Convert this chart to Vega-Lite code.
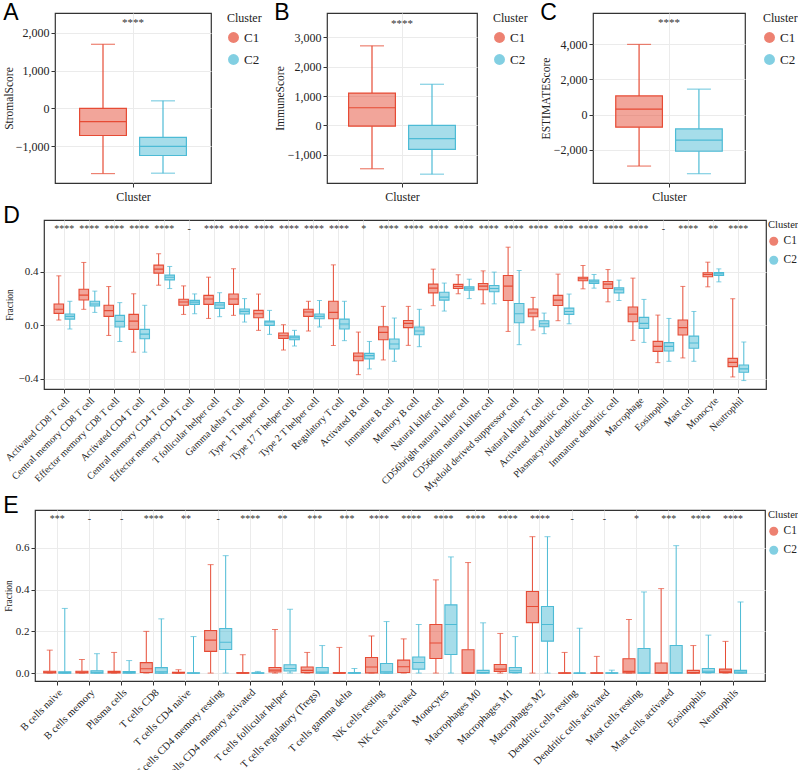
{
"$schema": "https://vega.github.io/schema/vega-lite/v6.json",
"background": "white",
"padding": {"left": 1, "top": 1, "right": 0, "bottom": 0},
"datasets": {
"A": [
{"g":"Cluster","Cluster":"C1","min":-1730,"q1":-720,"med":-350,"q3":0,"max":1700,"sig":"****"},
{"g":"Cluster","Cluster":"C2","min":-1720,"q1":-1250,"med":-1010,"q3":-770,"max":200,"sig":""}
],
"B": [
{"g":"Cluster","Cluster":"C1","min":-1480,"q1":-30,"med":600,"q3":1100,"max":2710,"sig":"****"},
{"g":"Cluster","Cluster":"C2","min":-1665,"q1":-820,"med":-450,"q3":0,"max":1400,"sig":""}
],
"C": [
{"g":"Cluster","Cluster":"C1","min":-2935,"q1":-720,"med":310,"q3":1065,"max":4000,"sig":"****"},
{"g":"Cluster","Cluster":"C2","min":-3370,"q1":-2090,"med":-1460,"q3":-820,"max":1450,"sig":""}
],
"D": [
{"cell":"Activated CD8 T cell","Cluster":"C1","min":0.04,"q1":0.09,"med":0.12,"q3":0.16,"max":0.37,"sig":"****"},
{"cell":"Activated CD8 T cell","Cluster":"C2","min":-0.027,"q1":0.047,"med":0.067,"q3":0.085,"max":0.18,"sig":""},
{"cell":"Central memory CD8 T cell","Cluster":"C1","min":0.12,"q1":0.19,"med":0.226,"q3":0.27,"max":0.47,"sig":"****"},
{"cell":"Central memory CD8 T cell","Cluster":"C2","min":0.097,"q1":0.145,"med":0.16,"q3":0.18,"max":0.256,"sig":""},
{"cell":"Effector memory CD8 T cell","Cluster":"C1","min":-0.075,"q1":0.067,"med":0.11,"q3":0.15,"max":0.29,"sig":"****"},
{"cell":"Effector memory CD8 T cell","Cluster":"C2","min":-0.12,"q1":-0.012,"med":0.03,"q3":0.075,"max":0.17,"sig":""},
{"cell":"Activated CD4 T cell","Cluster":"C1","min":-0.2,"q1":-0.03,"med":0.032,"q3":0.082,"max":0.236,"sig":"****"},
{"cell":"Activated CD4 T cell","Cluster":"C2","min":-0.2,"q1":-0.1,"med":-0.065,"q3":-0.03,"max":0.15,"sig":""},
{"cell":"Central memory CD4 T cell","Cluster":"C1","min":0.3,"q1":0.39,"med":0.42,"q3":0.45,"max":0.535,"sig":"****"},
{"cell":"Central memory CD4 T cell","Cluster":"C2","min":0.275,"q1":0.34,"med":0.36,"q3":0.375,"max":0.44,"sig":""},
{"cell":"Effector memory CD4 T cell","Cluster":"C1","min":0.082,"q1":0.15,"med":0.175,"q3":0.195,"max":0.295,"sig":"-"},
{"cell":"Effector memory CD4 T cell","Cluster":"C2","min":0.087,"q1":0.157,"med":0.174,"q3":0.187,"max":0.235,"sig":""},
{"cell":"T follicular helper cell","Cluster":"C1","min":0.052,"q1":0.157,"med":0.197,"q3":0.224,"max":0.36,"sig":"****"},
{"cell":"T follicular helper cell","Cluster":"C2","min":0.065,"q1":0.127,"med":0.152,"q3":0.17,"max":0.244,"sig":""},
{"cell":"Gamma delta T cell","Cluster":"C1","min":0.075,"q1":0.157,"med":0.197,"q3":0.234,"max":0.423,"sig":"****"},
{"cell":"Gamma delta T cell","Cluster":"C2","min":0.025,"q1":0.085,"med":0.105,"q3":0.122,"max":0.2,"sig":""},
{"cell":"Type 1 T helper cell","Cluster":"C1","min":-0.037,"q1":0.057,"med":0.087,"q3":0.112,"max":0.234,"sig":"****"},
{"cell":"Type 1 T helper cell","Cluster":"C2","min":-0.067,"q1":0.0,"med":0.025,"q3":0.032,"max":0.112,"sig":""},
{"cell":"Type 17 T helper cell","Cluster":"C1","min":-0.184,"q1":-0.097,"med":-0.077,"q3":-0.057,"max":0.005,"sig":"****"},
{"cell":"Type 17 T helper cell","Cluster":"C2","min":-0.154,"q1":-0.107,"med":-0.092,"q3":-0.08,"max":-0.037,"sig":""},
{"cell":"Type 2 T helper cell","Cluster":"C1","min":-0.042,"q1":0.067,"med":0.1,"q3":0.12,"max":0.18,"sig":"****"},
{"cell":"Type 2 T helper cell","Cluster":"C2","min":-0.012,"q1":0.05,"med":0.067,"q3":0.085,"max":0.186,"sig":""},
{"cell":"Regulatory T cell","Cluster":"C1","min":-0.15,"q1":0.05,"med":0.097,"q3":0.18,"max":0.452,"sig":"****"},
{"cell":"Regulatory T cell","Cluster":"C2","min":-0.114,"q1":-0.027,"med":0.01,"q3":0.047,"max":0.18,"sig":""},
{"cell":"Activated B cell","Cluster":"C1","min":-0.368,"q1":-0.264,"med":-0.231,"q3":-0.206,"max":-0.05,"sig":"*"},
{"cell":"Activated B cell","Cluster":"C2","min":-0.325,"q1":-0.25,"med":-0.226,"q3":-0.209,"max":-0.12,"sig":""},
{"cell":"Immature B cell","Cluster":"C1","min":-0.258,"q1":-0.107,"med":-0.052,"q3":-0.01,"max":0.142,"sig":"****"},
{"cell":"Immature B cell","Cluster":"C2","min":-0.268,"q1":-0.176,"med":-0.139,"q3":-0.102,"max":0.055,"sig":""},
{"cell":"Memory B cell","Cluster":"C1","min":-0.149,"q1":-0.017,"med":0.015,"q3":0.037,"max":0.142,"sig":"****"},
{"cell":"Memory B cell","Cluster":"C2","min":-0.159,"q1":-0.07,"med":-0.042,"q3":-0.012,"max":0.12,"sig":""},
{"cell":"Natural killer cell","Cluster":"C1","min":0.147,"q1":0.243,"med":0.278,"q3":0.308,"max":0.42,"sig":"****"},
{"cell":"Natural killer cell","Cluster":"C2","min":0.107,"q1":0.189,"med":0.211,"q3":0.248,"max":0.316,"sig":""},
{"cell":"CD56bright natural killer cell","Cluster":"C1","min":0.236,"q1":0.276,"med":0.29,"q3":0.306,"max":0.378,"sig":"****"},
{"cell":"CD56bright natural killer cell","Cluster":"C2","min":0.2,"q1":0.263,"med":0.278,"q3":0.288,"max":0.345,"sig":""},
{"cell":"CD56dim natural killer cell","Cluster":"C1","min":0.161,"q1":0.266,"med":0.293,"q3":0.313,"max":0.407,"sig":"****"},
{"cell":"CD56dim natural killer cell","Cluster":"C2","min":0.161,"q1":0.251,"med":0.276,"q3":0.298,"max":0.398,"sig":""},
{"cell":"Myeloid derived suppressor cell","Cluster":"C1","min":-0.045,"q1":0.186,"med":0.293,"q3":0.373,"max":0.584,"sig":"****"},
{"cell":"Myeloid derived suppressor cell","Cluster":"C2","min":-0.144,"q1":0.02,"med":0.087,"q3":0.164,"max":0.41,"sig":""},
{"cell":"Natural killer T cell","Cluster":"C1","min":-0.035,"q1":0.065,"med":0.092,"q3":0.122,"max":0.209,"sig":"****"},
{"cell":"Natural killer T cell","Cluster":"C2","min":-0.062,"q1":-0.01,"med":0.012,"q3":0.035,"max":0.092,"sig":""},
{"cell":"Activated dendritic cell","Cluster":"C1","min":0.035,"q1":0.149,"med":0.189,"q3":0.224,"max":0.383,"sig":"****"},
{"cell":"Activated dendritic cell","Cluster":"C2","min":0.012,"q1":0.082,"med":0.104,"q3":0.129,"max":0.234,"sig":""},
{"cell":"Plasmacytoid dendritic cell","Cluster":"C1","min":0.273,"q1":0.333,"med":0.348,"q3":0.36,"max":0.447,"sig":"****"},
{"cell":"Plasmacytoid dendritic cell","Cluster":"C2","min":0.278,"q1":0.313,"med":0.325,"q3":0.338,"max":0.38,"sig":""},
{"cell":"Immature dendritic cell","Cluster":"C1","min":0.176,"q1":0.276,"med":0.308,"q3":0.328,"max":0.417,"sig":"****"},
{"cell":"Immature dendritic cell","Cluster":"C2","min":0.186,"q1":0.243,"med":0.266,"q3":0.28,"max":0.338,"sig":""},
{"cell":"Macrophage","Cluster":"C1","min":-0.112,"q1":0.027,"med":0.084,"q3":0.137,"max":0.353,"sig":"****"},
{"cell":"Macrophage","Cluster":"C2","min":-0.127,"q1":-0.022,"med":0.015,"q3":0.06,"max":0.194,"sig":""},
{"cell":"Eosinophil","Cluster":"C1","min":-0.278,"q1":-0.194,"med":-0.157,"q3":-0.119,"max":0.077,"sig":"-"},
{"cell":"Eosinophil","Cluster":"C2","min":-0.268,"q1":-0.191,"med":-0.157,"q3":-0.129,"max":0.052,"sig":""},
{"cell":"Mast cell","Cluster":"C1","min":-0.243,"q1":-0.072,"med":-0.017,"q3":0.04,"max":0.291,"sig":"****"},
{"cell":"Mast cell","Cluster":"C2","min":-0.268,"q1":-0.171,"med":-0.132,"q3":-0.08,"max":0.104,"sig":""},
{"cell":"Monocyte","Cluster":"C1","min":0.288,"q1":0.363,"med":0.38,"q3":0.393,"max":0.472,"sig":"**"},
{"cell":"Monocyte","Cluster":"C2","min":0.325,"q1":0.373,"med":0.385,"q3":0.395,"max":0.422,"sig":""},
{"cell":"Neutrophil","Cluster":"C1","min":-0.385,"q1":-0.308,"med":-0.276,"q3":-0.246,"max":0.199,"sig":"****"},
{"cell":"Neutrophil","Cluster":"C2","min":-0.412,"q1":-0.35,"med":-0.325,"q3":-0.296,"max":-0.124,"sig":""}
],
"E": [
{"cell":"B cells naive","Cluster":"C1","min":0,"q1":0.001,"med":0.004,"q3":0.009,"max":0.11,"sig":"***"},
{"cell":"B cells naive","Cluster":"C2","min":0,"q1":0,"med":0.002,"q3":0.006,"max":0.31,"sig":""},
{"cell":"B cells memory","Cluster":"C1","min":0,"q1":0.001,"med":0.004,"q3":0.009,"max":0.065,"sig":"-"},
{"cell":"B cells memory","Cluster":"C2","min":0,"q1":0,"med":0.004,"q3":0.011,"max":0.093,"sig":""},
{"cell":"Plasma cells","Cluster":"C1","min":0,"q1":0.001,"med":0.004,"q3":0.008,"max":0.099,"sig":"-"},
{"cell":"Plasma cells","Cluster":"C2","min":0,"q1":0,"med":0.003,"q3":0.007,"max":0.06,"sig":""},
{"cell":"T cells CD8","Cluster":"C1","min":0,"q1":0.003,"med":0.021,"q3":0.05,"max":0.2,"sig":"****"},
{"cell":"T cells CD8","Cluster":"C2","min":0,"q1":0,"med":0.006,"q3":0.026,"max":0.26,"sig":""},
{"cell":"T cells CD4 naive","Cluster":"C1","min":0,"q1":0,"med":0.001,"q3":0.004,"max":0.016,"sig":"**"},
{"cell":"T cells CD4 naive","Cluster":"C2","min":0,"q1":0,"med":0,"q3":0.001,"max":0.175,"sig":""},
{"cell":"T cells CD4 memory resting","Cluster":"C1","min":0,"q1":0.104,"med":0.158,"q3":0.204,"max":0.52,"sig":"-"},
{"cell":"T cells CD4 memory resting","Cluster":"C2","min":0,"q1":0.113,"med":0.148,"q3":0.214,"max":0.563,"sig":""},
{"cell":"T cells CD4 memory activated","Cluster":"C1","min":0,"q1":0,"med":0,"q3":0.002,"max":0.088,"sig":"****"},
{"cell":"T cells CD4 memory activated","Cluster":"C2","min":0,"q1":0,"med":0,"q3":0.001,"max":0.008,"sig":""},
{"cell":"T cells follicular helper","Cluster":"C1","min":0,"q1":0.005,"med":0.014,"q3":0.027,"max":0.209,"sig":"**"},
{"cell":"T cells follicular helper","Cluster":"C2","min":0,"q1":0.01,"med":0.022,"q3":0.04,"max":0.306,"sig":""},
{"cell":"T cells regulatory (Tregs)","Cluster":"C1","min":0,"q1":0.002,"med":0.013,"q3":0.029,"max":0.099,"sig":"***"},
{"cell":"T cells regulatory (Tregs)","Cluster":"C2","min":0,"q1":0,"med":0.005,"q3":0.027,"max":0.132,"sig":""},
{"cell":"T cells gamma delta","Cluster":"C1","min":0,"q1":0,"med":0,"q3":0.002,"max":0.123,"sig":"***"},
{"cell":"T cells gamma delta","Cluster":"C2","min":0,"q1":0,"med":0,"q3":0.002,"max":0.022,"sig":""},
{"cell":"NK cells resting","Cluster":"C1","min":0,"q1":0.001,"med":0.029,"q3":0.075,"max":0.178,"sig":"****"},
{"cell":"NK cells resting","Cluster":"C2","min":0,"q1":0,"med":0.006,"q3":0.046,"max":0.247,"sig":""},
{"cell":"NK cells activated","Cluster":"C1","min":0,"q1":0.003,"med":0.03,"q3":0.062,"max":0.164,"sig":"****"},
{"cell":"NK cells activated","Cluster":"C2","min":0,"q1":0.019,"med":0.051,"q3":0.077,"max":0.233,"sig":""},
{"cell":"Monocytes","Cluster":"C1","min":0,"q1":0.07,"med":0.144,"q3":0.233,"max":0.447,"sig":"****"},
{"cell":"Monocytes","Cluster":"C2","min":0,"q1":0.089,"med":0.233,"q3":0.327,"max":0.557,"sig":""},
{"cell":"Macrophages M0","Cluster":"C1","min":0,"q1":0,"med":0.001,"q3":0.112,"max":0.53,"sig":"****"},
{"cell":"Macrophages M0","Cluster":"C2","min":0,"q1":0,"med":0.003,"q3":0.013,"max":0.241,"sig":""},
{"cell":"Macrophages M1","Cluster":"C1","min":0,"q1":0.008,"med":0.019,"q3":0.041,"max":0.19,"sig":"****"},
{"cell":"Macrophages M1","Cluster":"C2","min":0,"q1":0.002,"med":0.011,"q3":0.027,"max":0.175,"sig":""},
{"cell":"Macrophages M2","Cluster":"C1","min":0,"q1":0.242,"med":0.319,"q3":0.391,"max":0.654,"sig":"****"},
{"cell":"Macrophages M2","Cluster":"C2","min":0,"q1":0.153,"med":0.233,"q3":0.319,"max":0.654,"sig":""},
{"cell":"Dendritic cells resting","Cluster":"C1","min":0,"q1":0,"med":0,"q3":0.001,"max":0.099,"sig":"-"},
{"cell":"Dendritic cells resting","Cluster":"C2","min":0,"q1":0,"med":0,"q3":0,"max":0.215,"sig":""},
{"cell":"Dendritic cells activated","Cluster":"C1","min":0,"q1":0,"med":0,"q3":0.001,"max":0.08,"sig":"-"},
{"cell":"Dendritic cells activated","Cluster":"C2","min":0,"q1":0,"med":0,"q3":0.001,"max":0.014,"sig":""},
{"cell":"Mast cells resting","Cluster":"C1","min":0,"q1":0.001,"med":0.008,"q3":0.069,"max":0.257,"sig":"*"},
{"cell":"Mast cells resting","Cluster":"C2","min":0,"q1":0,"med":0.001,"q3":0.118,"max":0.389,"sig":""},
{"cell":"Mast cells activated","Cluster":"C1","min":0,"q1":0,"med":0.002,"q3":0.048,"max":0.405,"sig":"***"},
{"cell":"Mast cells activated","Cluster":"C2","min":0,"q1":0,"med":0.002,"q3":0.132,"max":0.611,"sig":""},
{"cell":"Eosinophils","Cluster":"C1","min":0,"q1":0,"med":0.003,"q3":0.013,"max":0.132,"sig":"****"},
{"cell":"Eosinophils","Cluster":"C2","min":0,"q1":0.002,"med":0.009,"q3":0.022,"max":0.182,"sig":""},
{"cell":"Neutrophils","Cluster":"C1","min":0,"q1":0.002,"med":0.009,"q3":0.019,"max":0.152,"sig":"****"},
{"cell":"Neutrophils","Cluster":"C2","min":0,"q1":0,"med":0.005,"q3":0.013,"max":0.341,"sig":""}
]
},
"vconcat": [
{
"vconcat": [
{
"hconcat": [
{"width": 1, "height": 1, "view": {"stroke": null, "fill": null}, "data": {"values": []}, "mark": {"type": "point"}, "encoding": {}},
{
"hconcat": [
{
"width": 156, "height": 170,
"title": {"text": "A", "dy": 16},
"data": {"name": "A"},
"encoding": {"x": {"field": "g", "type": "nominal", "scale": {"paddingOuter": 0, "paddingInner": 0}, "axis": {"title": "Cluster", "labels": false, "grid": true}}},
"layer": [
{"mark": {"type": "tick", "orient": "horizontal", "size": 24, "thickness": 1.2}, "encoding": {"xOffset": {"field": "Cluster", "type": "nominal", "scale": {"paddingInner": 0.22, "paddingOuter": 0.41}}, "color": {"field": "Cluster", "type": "nominal", "scale": {"domain": ["C1", "C2"], "range": ["#E64B35", "#4DBBD5"]}, "legend": {"title": "Cluster", "symbolType": "circle", "symbolSize": 120, "symbolStrokeWidth": 0, "titleFontSize": 12, "labelFontSize": 13, "titleFontWeight": "normal", "offset": 16, "rowPadding": 8, "titlePadding": 6}}, "y": {"field": "max", "type": "quantitative", "title": "StromalScore", "scale": {"domain": [-1980, 2530], "nice": false, "zero": false}, "axis": {"values": [-1000, 0, 1000, 2000], "format": ",d", "titlePadding": 1, "titleFontSize": 11.5}}}},
{"mark": {"type": "tick", "orient": "horizontal", "size": 24, "thickness": 1.2}, "encoding": {"xOffset": {"field": "Cluster", "type": "nominal", "scale": {"paddingInner": 0.22, "paddingOuter": 0.41}}, "color": {"field": "Cluster", "type": "nominal"}, "y": {"field": "min", "type": "quantitative", "title": "StromalScore"}}},
{"mark": {"type": "rule", "strokeWidth": 1.2}, "encoding": {"xOffset": {"field": "Cluster", "type": "nominal", "scale": {"paddingInner": 0.22, "paddingOuter": 0.41}}, "color": {"field": "Cluster", "type": "nominal"}, "y": {"field": "min", "type": "quantitative", "title": "StromalScore"}, "y2": {"field": "q1"}}},
{"mark": {"type": "rule", "strokeWidth": 1.2}, "encoding": {"xOffset": {"field": "Cluster", "type": "nominal", "scale": {"paddingInner": 0.22, "paddingOuter": 0.41}}, "color": {"field": "Cluster", "type": "nominal"}, "y": {"field": "q3", "type": "quantitative", "title": "StromalScore"}, "y2": {"field": "max"}}},
{"mark": {"type": "bar", "fillOpacity": 0.5, "strokeWidth": 0}, "encoding": {"xOffset": {"field": "Cluster", "type": "nominal", "scale": {"paddingInner": 0.22, "paddingOuter": 0.41}}, "color": {"field": "Cluster", "type": "nominal"}, "y": {"field": "q1", "type": "quantitative", "title": "StromalScore"}, "y2": {"field": "q3"}}},
{"mark": {"type": "bar", "filled": false, "strokeWidth": 1.2}, "encoding": {"xOffset": {"field": "Cluster", "type": "nominal", "scale": {"paddingInner": 0.22, "paddingOuter": 0.41}}, "color": {"field": "Cluster", "type": "nominal"}, "y": {"field": "q1", "type": "quantitative", "title": "StromalScore"}, "y2": {"field": "q3"}}},
{"mark": {"type": "bar", "filled": false, "strokeWidth": 1.2}, "encoding": {"xOffset": {"field": "Cluster", "type": "nominal", "scale": {"paddingInner": 0.22, "paddingOuter": 0.41}}, "color": {"field": "Cluster", "type": "nominal"}, "y": {"field": "med", "type": "quantitative", "title": "StromalScore"}, "y2": {"field": "med"}}},
{"mark": {"type": "text", "fontSize": 11, "color": "#333", "baseline": "middle"}, "encoding": {"y": {"datum": 2265}, "text": {"field": "sig"}}}
]
},
{
"width": 150, "height": 170,
"title": {"text": "B", "dy": 16},
"data": {"name": "B"},
"encoding": {"x": {"field": "g", "type": "nominal", "scale": {"paddingOuter": 0, "paddingInner": 0}, "axis": {"title": "Cluster", "labels": false, "grid": true}}},
"layer": [
{"mark": {"type": "tick", "orient": "horizontal", "size": 24, "thickness": 1.2}, "encoding": {"xOffset": {"field": "Cluster", "type": "nominal", "scale": {"paddingInner": 0.22, "paddingOuter": 0.36}}, "color": {"field": "Cluster", "type": "nominal", "scale": {"domain": ["C1", "C2"], "range": ["#E64B35", "#4DBBD5"]}, "legend": {"title": "Cluster", "symbolType": "circle", "symbolSize": 120, "symbolStrokeWidth": 0, "titleFontSize": 12, "labelFontSize": 13, "titleFontWeight": "normal", "offset": 16, "rowPadding": 8, "titlePadding": 6}}, "y": {"field": "max", "type": "quantitative", "title": "ImmuneScore", "scale": {"domain": [-1966, 3830], "nice": false, "zero": false}, "axis": {"values": [-1000, 0, 1000, 2000, 3000], "format": ",d", "titlePadding": 2, "titleFontSize": 11.5}}}},
{"mark": {"type": "tick", "orient": "horizontal", "size": 24, "thickness": 1.2}, "encoding": {"xOffset": {"field": "Cluster", "type": "nominal", "scale": {"paddingInner": 0.22, "paddingOuter": 0.36}}, "color": {"field": "Cluster", "type": "nominal"}, "y": {"field": "min", "type": "quantitative", "title": "ImmuneScore"}}},
{"mark": {"type": "rule", "strokeWidth": 1.2}, "encoding": {"xOffset": {"field": "Cluster", "type": "nominal", "scale": {"paddingInner": 0.22, "paddingOuter": 0.36}}, "color": {"field": "Cluster", "type": "nominal"}, "y": {"field": "min", "type": "quantitative", "title": "ImmuneScore"}, "y2": {"field": "q1"}}},
{"mark": {"type": "rule", "strokeWidth": 1.2}, "encoding": {"xOffset": {"field": "Cluster", "type": "nominal", "scale": {"paddingInner": 0.22, "paddingOuter": 0.36}}, "color": {"field": "Cluster", "type": "nominal"}, "y": {"field": "q3", "type": "quantitative", "title": "ImmuneScore"}, "y2": {"field": "max"}}},
{"mark": {"type": "bar", "fillOpacity": 0.5, "strokeWidth": 0}, "encoding": {"xOffset": {"field": "Cluster", "type": "nominal", "scale": {"paddingInner": 0.22, "paddingOuter": 0.36}}, "color": {"field": "Cluster", "type": "nominal"}, "y": {"field": "q1", "type": "quantitative", "title": "ImmuneScore"}, "y2": {"field": "q3"}}},
{"mark": {"type": "bar", "filled": false, "strokeWidth": 1.2}, "encoding": {"xOffset": {"field": "Cluster", "type": "nominal", "scale": {"paddingInner": 0.22, "paddingOuter": 0.36}}, "color": {"field": "Cluster", "type": "nominal"}, "y": {"field": "q1", "type": "quantitative", "title": "ImmuneScore"}, "y2": {"field": "q3"}}},
{"mark": {"type": "bar", "filled": false, "strokeWidth": 1.2}, "encoding": {"xOffset": {"field": "Cluster", "type": "nominal", "scale": {"paddingInner": 0.22, "paddingOuter": 0.36}}, "color": {"field": "Cluster", "type": "nominal"}, "y": {"field": "med", "type": "quantitative", "title": "ImmuneScore"}, "y2": {"field": "med"}}},
{"mark": {"type": "text", "fontSize": 11, "color": "#333", "baseline": "middle"}, "encoding": {"y": {"datum": 3444}, "text": {"field": "sig"}}}
]
},
{
"width": 152, "height": 170,
"title": {"text": "C", "dy": 16},
"data": {"name": "C"},
"encoding": {"x": {"field": "g", "type": "nominal", "scale": {"paddingOuter": 0, "paddingInner": 0}, "axis": {"title": "Cluster", "labels": false, "grid": true}}},
"layer": [
{"mark": {"type": "tick", "orient": "horizontal", "size": 24, "thickness": 1.2}, "encoding": {"xOffset": {"field": "Cluster", "type": "nominal", "scale": {"paddingInner": 0.22, "paddingOuter": 0.38}}, "color": {"field": "Cluster", "type": "nominal", "scale": {"domain": ["C1", "C2"], "range": ["#E64B35", "#4DBBD5"]}, "legend": {"title": "Cluster", "symbolType": "circle", "symbolSize": 120, "symbolStrokeWidth": 0, "titleFontSize": 12, "labelFontSize": 13, "titleFontWeight": "normal", "offset": 18, "rowPadding": 8, "titlePadding": 6}}, "y": {"field": "max", "type": "quantitative", "title": "ESTIMATEScore", "scale": {"domain": [-3900, 5790], "nice": false, "zero": false}, "axis": {"values": [-2000, 0, 2000, 4000], "format": ",d", "titlePadding": 2, "titleFontSize": 11.5}}}},
{"mark": {"type": "tick", "orient": "horizontal", "size": 24, "thickness": 1.2}, "encoding": {"xOffset": {"field": "Cluster", "type": "nominal", "scale": {"paddingInner": 0.22, "paddingOuter": 0.38}}, "color": {"field": "Cluster", "type": "nominal"}, "y": {"field": "min", "type": "quantitative", "title": "ESTIMATEScore"}}},
{"mark": {"type": "rule", "strokeWidth": 1.2}, "encoding": {"xOffset": {"field": "Cluster", "type": "nominal", "scale": {"paddingInner": 0.22, "paddingOuter": 0.38}}, "color": {"field": "Cluster", "type": "nominal"}, "y": {"field": "min", "type": "quantitative", "title": "ESTIMATEScore"}, "y2": {"field": "q1"}}},
{"mark": {"type": "rule", "strokeWidth": 1.2}, "encoding": {"xOffset": {"field": "Cluster", "type": "nominal", "scale": {"paddingInner": 0.22, "paddingOuter": 0.38}}, "color": {"field": "Cluster", "type": "nominal"}, "y": {"field": "q3", "type": "quantitative", "title": "ESTIMATEScore"}, "y2": {"field": "max"}}},
{"mark": {"type": "bar", "fillOpacity": 0.5, "strokeWidth": 0}, "encoding": {"xOffset": {"field": "Cluster", "type": "nominal", "scale": {"paddingInner": 0.22, "paddingOuter": 0.38}}, "color": {"field": "Cluster", "type": "nominal"}, "y": {"field": "q1", "type": "quantitative", "title": "ESTIMATEScore"}, "y2": {"field": "q3"}}},
{"mark": {"type": "bar", "filled": false, "strokeWidth": 1.2}, "encoding": {"xOffset": {"field": "Cluster", "type": "nominal", "scale": {"paddingInner": 0.22, "paddingOuter": 0.38}}, "color": {"field": "Cluster", "type": "nominal"}, "y": {"field": "q1", "type": "quantitative", "title": "ESTIMATEScore"}, "y2": {"field": "q3"}}},
{"mark": {"type": "bar", "filled": false, "strokeWidth": 1.2}, "encoding": {"xOffset": {"field": "Cluster", "type": "nominal", "scale": {"paddingInner": 0.22, "paddingOuter": 0.38}}, "color": {"field": "Cluster", "type": "nominal"}, "y": {"field": "med", "type": "quantitative", "title": "ESTIMATEScore"}, "y2": {"field": "med"}}},
{"mark": {"type": "text", "fontSize": 11, "color": "#333", "baseline": "middle"}, "encoding": {"y": {"datum": 5200}, "text": {"field": "sig"}}}
]
}
],
"spacing": 10,
"resolve": {"scale": {"color": "independent", "y": "independent", "x": "independent", "xOffset": "independent"}, "legend": {"color": "independent"}}
}
],
"spacing": 0,
"resolve": {"scale": {"color": "independent", "y": "independent", "x": "independent", "xOffset": "independent"}, "legend": {"color": "independent"}}
},
{
"hconcat": [
{"width": 1, "height": 1, "view": {"stroke": null, "fill": null}, "data": {"values": []}, "mark": {"type": "point"}, "encoding": {}},
{
"width": 722, "height": 169,
"title": {"text": "D", "dy": 12},
"data": {"name": "D"},
"encoding": {"x": {"field": "cell", "type": "nominal", "sort": null, "scale": {"paddingInner": 0, "paddingOuter": 0.4625, "align": 0.34}, "axis": {"title": null, "labelAngle": -45, "labelFontSize": 10, "labelLimit": 300, "labelPadding": 2}}},
"layer": [
{"mark": {"type": "tick", "orient": "horizontal", "size": 5, "thickness": 1}, "encoding": {"xOffset": {"field": "Cluster", "type": "nominal", "scale": {"paddingInner": 0.14, "paddingOuter": 0.2}}, "color": {"field": "Cluster", "type": "nominal", "scale": {"domain": ["C1", "C2"], "range": ["#E64B35", "#4DBBD5"]}, "legend": {"title": "Cluster", "symbolType": "circle", "symbolSize": 80, "symbolStrokeWidth": 0, "titleFontSize": 10.5, "labelFontSize": 11.5, "titleFontWeight": "normal", "offset": 2, "rowPadding": 6, "titlePadding": 5}}, "y": {"field": "max", "type": "quantitative", "title": "Fraction", "scale": {"domain": [-0.475, 0.787], "nice": false, "zero": false}, "axis": {"values": [-0.4, -0.2, 0, 0.2, 0.4, 0.6], "format": ".1f", "labelFontSize": 11, "titleFontSize": 9.5}}}},
{"mark": {"type": "tick", "orient": "horizontal", "size": 5, "thickness": 1}, "encoding": {"xOffset": {"field": "Cluster", "type": "nominal", "scale": {"paddingInner": 0.14, "paddingOuter": 0.2}}, "color": {"field": "Cluster", "type": "nominal"}, "y": {"field": "min", "type": "quantitative", "title": "Fraction"}}},
{"mark": {"type": "rule", "strokeWidth": 1}, "encoding": {"xOffset": {"field": "Cluster", "type": "nominal", "scale": {"paddingInner": 0.14, "paddingOuter": 0.2}}, "color": {"field": "Cluster", "type": "nominal"}, "y": {"field": "min", "type": "quantitative", "title": "Fraction"}, "y2": {"field": "q1"}}},
{"mark": {"type": "rule", "strokeWidth": 1}, "encoding": {"xOffset": {"field": "Cluster", "type": "nominal", "scale": {"paddingInner": 0.14, "paddingOuter": 0.2}}, "color": {"field": "Cluster", "type": "nominal"}, "y": {"field": "q3", "type": "quantitative", "title": "Fraction"}, "y2": {"field": "max"}}},
{"mark": {"type": "bar", "fillOpacity": 0.5, "strokeWidth": 0}, "encoding": {"xOffset": {"field": "Cluster", "type": "nominal", "scale": {"paddingInner": 0.14, "paddingOuter": 0.2}}, "color": {"field": "Cluster", "type": "nominal"}, "y": {"field": "q1", "type": "quantitative", "title": "Fraction"}, "y2": {"field": "q3"}}},
{"mark": {"type": "bar", "filled": false, "strokeWidth": 1.1}, "encoding": {"xOffset": {"field": "Cluster", "type": "nominal", "scale": {"paddingInner": 0.14, "paddingOuter": 0.2}}, "color": {"field": "Cluster", "type": "nominal"}, "y": {"field": "q1", "type": "quantitative", "title": "Fraction"}, "y2": {"field": "q3"}}},
{"mark": {"type": "bar", "filled": false, "strokeWidth": 1.1}, "encoding": {"xOffset": {"field": "Cluster", "type": "nominal", "scale": {"paddingInner": 0.14, "paddingOuter": 0.2}}, "color": {"field": "Cluster", "type": "nominal"}, "y": {"field": "med", "type": "quantitative", "title": "Fraction"}, "y2": {"field": "med"}}},
{"mark": {"type": "text", "fontSize": 10, "color": "#333", "baseline": "middle"}, "encoding": {"y": {"datum": 0.72}, "text": {"field": "sig"}}}
]
}
],
"spacing": 0,
"resolve": {"scale": {"color": "independent", "y": "independent", "x": "independent", "xOffset": "independent"}, "legend": {"color": "independent"}}
}
],
"spacing": 0,
"resolve": {"scale": {"color": "independent", "y": "independent", "x": "independent", "xOffset": "independent"}, "legend": {"color": "independent"}}
},
{
"hconcat": [
{"width": 1, "height": 1, "view": {"stroke": null, "fill": null}, "data": {"values": []}, "mark": {"type": "point"}, "encoding": {}},
{
"width": 730, "height": 171,
"title": {"text": "E", "dy": 12},
"data": {"name": "E"},
"encoding": {"x": {"field": "cell", "type": "nominal", "sort": null, "scale": {"paddingInner": 0, "paddingOuter": 0.343, "align": 0.28}, "axis": {"title": null, "labelAngle": -45, "labelFontSize": 10.5, "labelLimit": 300, "labelPadding": 2}}},
"layer": [
{"mark": {"type": "tick", "orient": "horizontal", "size": 6, "thickness": 1}, "encoding": {"xOffset": {"field": "Cluster", "type": "nominal", "scale": {"paddingInner": 0.2, "paddingOuter": 0.17}}, "color": {"field": "Cluster", "type": "nominal", "scale": {"domain": ["C1", "C2"], "range": ["#E64B35", "#4DBBD5"]}, "legend": {"title": "Cluster", "symbolType": "circle", "symbolSize": 80, "symbolStrokeWidth": 0, "titleFontSize": 10.5, "labelFontSize": 11.5, "titleFontWeight": "normal", "offset": 3, "rowPadding": 6, "titlePadding": 5}}, "y": {"field": "max", "type": "quantitative", "title": "Fraction", "scale": {"domain": [-0.038, 0.782], "nice": false, "zero": false}, "axis": {"values": [0, 0.2, 0.4, 0.6], "format": ".1f", "labelFontSize": 11, "titleFontSize": 9.5, "titlePadding": 2}}}},
{"mark": {"type": "tick", "orient": "horizontal", "size": 6, "thickness": 1}, "encoding": {"xOffset": {"field": "Cluster", "type": "nominal", "scale": {"paddingInner": 0.2, "paddingOuter": 0.17}}, "color": {"field": "Cluster", "type": "nominal"}, "y": {"field": "min", "type": "quantitative", "title": "Fraction"}}},
{"mark": {"type": "rule", "strokeWidth": 1}, "encoding": {"xOffset": {"field": "Cluster", "type": "nominal", "scale": {"paddingInner": 0.2, "paddingOuter": 0.17}}, "color": {"field": "Cluster", "type": "nominal"}, "y": {"field": "min", "type": "quantitative", "title": "Fraction"}, "y2": {"field": "q1"}}},
{"mark": {"type": "rule", "strokeWidth": 1}, "encoding": {"xOffset": {"field": "Cluster", "type": "nominal", "scale": {"paddingInner": 0.2, "paddingOuter": 0.17}}, "color": {"field": "Cluster", "type": "nominal"}, "y": {"field": "q3", "type": "quantitative", "title": "Fraction"}, "y2": {"field": "max"}}},
{"mark": {"type": "bar", "fillOpacity": 0.5, "strokeWidth": 0}, "encoding": {"xOffset": {"field": "Cluster", "type": "nominal", "scale": {"paddingInner": 0.2, "paddingOuter": 0.17}}, "color": {"field": "Cluster", "type": "nominal"}, "y": {"field": "q1", "type": "quantitative", "title": "Fraction"}, "y2": {"field": "q3"}}},
{"mark": {"type": "bar", "filled": false, "strokeWidth": 1.1}, "encoding": {"xOffset": {"field": "Cluster", "type": "nominal", "scale": {"paddingInner": 0.2, "paddingOuter": 0.17}}, "color": {"field": "Cluster", "type": "nominal"}, "y": {"field": "q1", "type": "quantitative", "title": "Fraction"}, "y2": {"field": "q3"}}},
{"mark": {"type": "bar", "filled": false, "strokeWidth": 1.1}, "encoding": {"xOffset": {"field": "Cluster", "type": "nominal", "scale": {"paddingInner": 0.2, "paddingOuter": 0.17}}, "color": {"field": "Cluster", "type": "nominal"}, "y": {"field": "med", "type": "quantitative", "title": "Fraction"}, "y2": {"field": "med"}}},
{"mark": {"type": "text", "fontSize": 10, "color": "#333", "baseline": "middle"}, "encoding": {"y": {"datum": 0.739}, "text": {"field": "sig"}}}
]
}
],
"spacing": 0,
"resolve": {"scale": {"color": "independent", "y": "independent", "x": "independent", "xOffset": "independent"}, "legend": {"color": "independent"}}
}
],
"spacing": 0,
"resolve": {"scale": {"color": "independent", "y": "independent", "x": "independent", "xOffset": "independent"}, "legend": {"color": "independent"}},
"config": {
"font": "Liberation Serif",
"view": {"stroke": "#333", "strokeWidth": 1.2},
"axis": {"grid": true, "gridColor": "#EBEBEB", "gridWidth": 1, "domain": false, "tickColor": "#333", "tickSize": 4, "labelColor": "#222", "titleColor": "#222", "labelFont": "Liberation Serif", "titleFont": "Liberation Serif", "titleFontWeight": "normal", "labelFontSize": 12, "titleFontSize": 12},
"legend": {"labelFont": "Liberation Serif", "titleFont": "Liberation Serif", "labelColor": "#222", "titleColor": "#222"},
"title": {"font": "Liberation Sans", "fontWeight": "normal", "fontSize": 23, "anchor": "start", "frame": "bounds", "color": "#000", "offset": 0}
}
}
